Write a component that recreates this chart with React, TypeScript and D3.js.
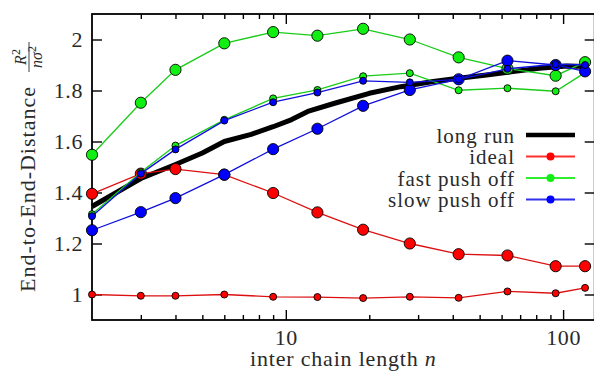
import React, { useEffect, useRef } from "react";
import * as d3 from "d3";

// inter chain lengths n of the simulations
const N_VALUES = [2, 3, 4, 6, 9, 13, 19, 28, 42, 63, 94, 120];

// red / green / blue, each with a big-marker and a small-marker set
const IDEAL_BIG = [1.395, 1.474, 1.492, 1.47, 1.398, 1.322, 1.254, 1.2, 1.158, 1.153, 1.111, 1.111];
const IDEAL_SMALL = [1.0, 0.995, 0.995, 1.0, 0.991, 0.99, 0.986, 0.991, 0.987, 1.012, 1.005, 1.026];
const FAST_BIG = [1.548, 1.752, 1.881, 1.985, 2.029, 2.015, 2.042, 2.0, 1.93, 1.886, 1.858, 1.911];
const FAST_SMALL = [1.315, 1.479, 1.584, 1.685, 1.769, 1.802, 1.856, 1.868, 1.801, 1.809, 1.797, 1.87];
const SLOW_BIG = [1.252, 1.323, 1.378, 1.47, 1.57, 1.65, 1.74, 1.802, 1.844, 1.917, 1.9, 1.875];
const SLOW_SMALL = [1.307, 1.474, 1.569, 1.682, 1.754, 1.792, 1.838, 1.832, 1.844, 1.885, 1.903, 1.9];

// long run (thick black line)
const LONG_RUN_N = [2, 3, 4, 5, 6, 7.5, 9, 10.5, 12, 15, 20, 26, 34, 42, 53, 66, 82, 103, 122];
const LONG_RUN_VALUES = [1.345, 1.455, 1.51, 1.555, 1.6, 1.628, 1.658, 1.686, 1.718, 1.75, 1.789, 1.815, 1.835, 1.848, 1.861, 1.874, 1.887, 1.896, 1.894];

const LEGEND_LABELS = ["long run", "ideal", "fast push off", "slow push off"];
const X_TICK_LABELS = [10, 100];
const X_MINOR_TICKS = [3, 4, 5, 6, 7, 8, 9, 20, 30, 40, 50, 60, 70, 80, 90];
const Y_TICK_LABELS = [1, 1.2, 1.4, 1.6, 1.8, 2];

const WIDTH = 594;
const HEIGHT = 371;
const LEFT = 92;
const RIGHT = 594.7;
const TOP = 14;
const BOTTOM = 320;
const FONT = "Liberation Serif";
const TEXT_COLOR = "#2a2a2a";

export default function App() {
	const ref = useRef<SVGSVGElement>(null);

	useEffect(() => {
		const svg = d3.select(ref.current);
		svg.selectAll("*").remove();

		const x = d3.scaleLog().domain([2, 130]).range([LEFT, RIGHT]);
		const y = d3.scaleLinear().domain([0.9, 2.1]).range([BOTTOM, TOP]);

		// ticks, all pointing inward
		const styleAxis = (g: any) => {
			g.attr("font-family", FONT).attr("font-size", 22);
			g.select(".domain").remove();
			g.selectAll("line").attr("stroke", "#000").attr("stroke-width", 1.4);
			g.selectAll("text")
				.attr("fill", TEXT_COLOR)
				.attr("letter-spacing", 0.6);
		};

		svg.append("g")
			.attr("transform", `translate(0, ${BOTTOM})`)
			.call(d3.axisBottom(x).tickValues(X_TICK_LABELS).tickSize(-10).tickPadding(9.5).tickFormat(d3.format("d")))
			.call(styleAxis);
		svg.append("g")
			.attr("transform", `translate(0, ${BOTTOM})`)
			.call(d3.axisBottom(x).tickValues(X_MINOR_TICKS).tickSize(-5).tickFormat(() => ""))
			.call(styleAxis);
		svg.append("g")
			.attr("transform", `translate(0, ${TOP})`)
			.call(d3.axisTop(x).tickValues(X_TICK_LABELS).tickSize(-10).tickFormat(() => ""))
			.call(styleAxis);
		svg.append("g")
			.attr("transform", `translate(0, ${TOP})`)
			.call(d3.axisTop(x).tickValues(X_MINOR_TICKS).tickSize(-5).tickFormat(() => ""))
			.call(styleAxis);
		svg.append("g")
			.attr("transform", `translate(${LEFT}, 0)`)
			.call(d3.axisLeft(y).tickValues(Y_TICK_LABELS).tickSize(-10).tickPadding(9).tickFormat(d3.format("~g")))
			.call(styleAxis);
		svg.append("g")
			.attr("transform", `translate(${RIGHT}, 0)`)
			.call(d3.axisRight(y).tickValues(Y_TICK_LABELS).tickSize(-10).tickFormat(() => ""))
			.call(styleAxis);

		svg.append("rect")
			.attr("x", LEFT)
			.attr("y", TOP)
			.attr("width", RIGHT - LEFT)
			.attr("height", BOTTOM - TOP)
			.attr("fill", "none")
			.attr("stroke", "#000")
			.attr("stroke-width", 1.8);

		// long run
		const longLine = d3.line<number>()
			.x((d, i) => x(LONG_RUN_N[i]))
			.y((d) => y(d));
		svg.append("path")
			.attr("d", longLine(LONG_RUN_VALUES))
			.attr("fill", "none")
			.attr("stroke", "#000")
			.attr("stroke-width", 5)
			.attr("stroke-linejoin", "round");

		const series = [
			{ values: IDEAL_BIG, line: "#dd1010", fill: "#ff0000", r: 5.6 },
			{ values: IDEAL_SMALL, line: "#dd1010", fill: "#ff0000", r: 3.5 },
			{ values: FAST_BIG, line: "#18cc18", fill: "#11ee11", r: 5.6 },
			{ values: FAST_SMALL, line: "#18cc18", fill: "#11ee11", r: 3.5 },
			{ values: SLOW_BIG, line: "#1010dd", fill: "#0000ff", r: 5.6 },
			{ values: SLOW_SMALL, line: "#1010dd", fill: "#0000ff", r: 3.5 }
		];

		const line = d3.line<number>()
			.x((d, i) => x(N_VALUES[i]))
			.y((d) => y(d));

		series.forEach((s) => {
			const g = svg.append("g");
			g.append("path")
				.attr("d", line(s.values))
				.attr("fill", "none")
				.attr("stroke", s.line)
				.attr("stroke-width", 1.3);
			g.selectAll("circle")
				.data(s.values)
				.enter()
				.append("circle")
				.attr("cx", (d, i) => x(N_VALUES[i]))
				.attr("cy", (d) => y(d))
				.attr("r", s.r)
				.attr("fill", s.fill)
				.attr("stroke", "#000")
				.attr("stroke-width", 0.9);
		});

		// legend
		const legendColors = ["#000", "#ff3030", "#30ee30", "#3030ee"];
		const legend = svg.append("g").attr("font-family", FONT).attr("font-size", 21);
		LEGEND_LABELS.forEach((label, i) => {
			const ly = 135 + i * 21.5;
			legend.append("text")
				.attr("x", 515)
				.attr("y", ly + 7.5)
				.attr("text-anchor", "end")
				.attr("fill", TEXT_COLOR)
				.attr("letter-spacing", 1)
				.text(label);
			legend.append("line")
				.attr("x1", 526)
				.attr("x2", 575)
				.attr("y1", ly)
				.attr("y2", ly)
				.attr("stroke", legendColors[i])
				.attr("stroke-width", i === 0 ? 4.5 : 1.8);
			if (i > 0) {
				legend.append("circle")
					.attr("cx", 550.5)
					.attr("cy", ly)
					.attr("r", 4)
					.attr("fill", series[(i - 1) * 2].fill);
			}
		});

		// x label
		const xl = svg.append("text")
			.attr("x", (LEFT + RIGHT) / 2)
			.attr("y", 366)
			.attr("text-anchor", "middle")
			.attr("fill", TEXT_COLOR)
			.attr("font-family", FONT)
			.attr("font-size", 22)
			.attr("letter-spacing", 0.8);
		xl.append("tspan").text("inter chain length ");
		xl.append("tspan").attr("font-style", "italic").text("n");

		// y label
		svg.append("text")
			.attr("transform", "translate(35, 292) rotate(-90)")
			.attr("fill", TEXT_COLOR)
			.attr("font-family", FONT)
			.attr("font-size", 22)
			.attr("letter-spacing", 1)
			.text("End-to-End-Distance");

		const frac = svg.append("g")
			.attr("transform", "translate(0, 57) rotate(-90)")
			.attr("font-family", FONT)
			.attr("fill", TEXT_COLOR);
		frac.append("line")
			.attr("x1", -15)
			.attr("x2", 15)
			.attr("y1", 29)
			.attr("y2", 29)
			.attr("stroke", TEXT_COLOR)
			.attr("stroke-width", 0.9);
		const num = frac.append("text")
			.attr("x", 0)
			.attr("y", 26)
			.attr("text-anchor", "middle")
			.attr("font-size", 16);
		num.append("tspan").attr("font-style", "italic").text("R");
		num.append("tspan").attr("dy", -6).attr("font-size", 12).text("2");
		const den = frac.append("text")
			.attr("x", 0)
			.attr("y", 42)
			.attr("text-anchor", "middle")
			.attr("font-size", 16);
		den.append("tspan").attr("font-style", "italic").text("nσ");
		den.append("tspan").attr("dy", -6).attr("font-size", 12).text("2");
	}, []);

	return (
		<svg
			ref={ref}
			width={WIDTH}
			height={HEIGHT}
			style={{ position: "absolute", left: 0, top: 0, background: "#fff" }}></svg>
	);
}
